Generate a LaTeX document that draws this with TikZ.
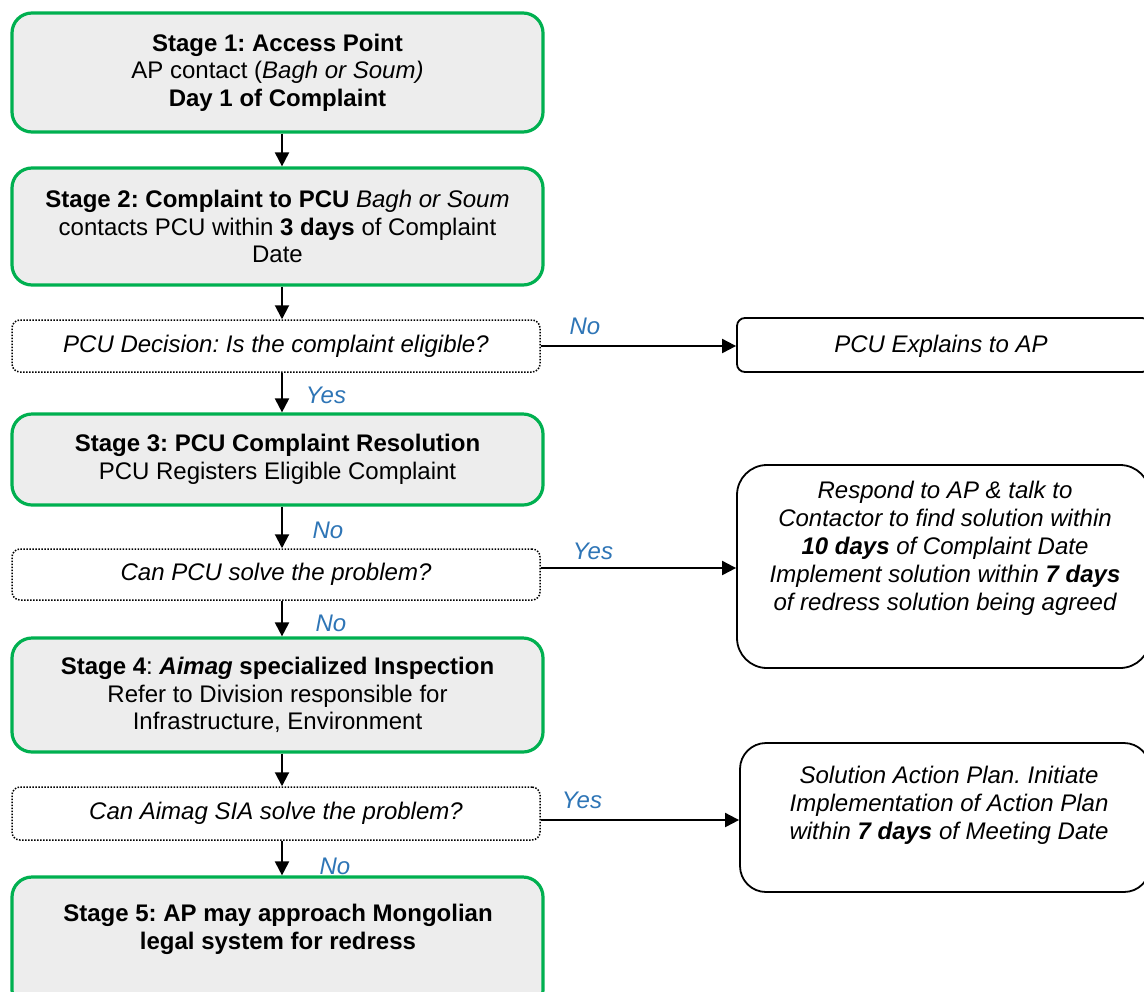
\documentclass[tikz,border=0pt]{standalone}
\usepackage{fontspec}
\setmainfont{Liberation Sans}
\usetikzlibrary{arrows.meta,calc}
\definecolor{stagegreen}{HTML}{00B050}
\definecolor{stagefill}{HTML}{EDEDED}
\definecolor{lblblue}{HTML}{2E75B6}
\newcommand{\basefnt}{\fontsize{12}{13.8}\selectfont}
\frenchspacing
\begin{document}
\begin{tikzpicture}[x=0.5pt,y=-0.5pt,
  stagebox/.style={draw=stagegreen, line width=1.6pt, fill=stagefill, rounded corners=10pt,
    align=center, inner sep=0pt, minimum width=265.5pt, font=\basefnt},
  decbox/.style={draw, line width=0.75pt, dash pattern=on 0.75pt off 0.75pt, rounded corners=4pt,
    align=center, inner sep=0pt, minimum width=264pt, font=\basefnt\itshape},
  outbox/.style={draw, line width=0.9pt, inner sep=0pt, fill=white},
  outtext/.style={align=center, inner sep=0pt, font=\fontsize{12}{14}\selectfont\itshape},
  conn/.style={line width=1pt, -{Triangle[length=7pt,width=7pt]}},
  yn/.style={text=lblblue, inner sep=0pt, font=\fontsize{12}{14}\selectfont\itshape}
]
\clip (0,0) rectangle (1144,991);
\fill[white] (0,0) rectangle (1144,991);

% stage boxes
\node[stagebox, minimum height=59.5pt] (s1) at (277.5,72.5)
  {\textbf{Stage 1: Access Point}\\ AP contact (\textit{Bagh or Soum)}\\ \textbf{Day 1 of Complaint}};
\node[stagebox, minimum height=58.5pt] (s2) at (277.5,226.5)
  {\textbf{Stage 2: Complaint to PCU} \textit{Bagh or Soum}\\ contacts PCU within \textbf{3 days} of Complaint\\ Date};
\node[decbox, minimum height=26pt] (d1) at (276,346) {PCU Decision: Is the complaint eligible?};
\node[stagebox, minimum height=45.5pt] (s3) at (277.5,459.5)
  {\textbf{Stage 3: PCU Complaint Resolution}\\ PCU Registers Eligible Complaint};
\node[decbox, minimum height=25.5pt] (d2) at (276,574.5) {Can PCU solve the problem?};
\node[stagebox, minimum height=57pt] (s4) at (277.5,695)
  {\textbf{Stage 4}: \textbf{\textit{Aimag} specialized Inspection}\\ Refer to Division responsible for\\ Infrastructure, Environment};
\node[decbox, minimum height=26.5pt] (d3) at (276,813.5) {Can Aimag SIA solve the problem?};
\node[stagebox, minimum height=66.5pt] (s5) at (277.5,943.5) {};
\node[align=center, inner sep=0pt, font=\basefnt\bfseries] (s5t) at (278,929.5)
  {Stage 5: AP may approach Mongolian\\ legal system for redress};

% outcome boxes
\node[outbox, rounded corners=4pt, minimum width=206.5pt, minimum height=27pt] (r1) at (943.5,345) {};
\node[outtext] (r1t) at (941,346) {PCU Explains to AP};
\node[outbox, rounded corners=15pt, minimum width=206.5pt, minimum height=101.5pt] (r2) at (943.5,566.5) {};
\node[outtext] (r2t) at (945,548.5)
  {Respond to AP \& talk to\\ Contactor to find solution within\\ \textbf{10 days} of Complaint Date\\ Implement solution within \textbf{7 days}\\ of redress solution being agreed};
\node[outbox, rounded corners=13pt, minimum width=205pt, minimum height=74.5pt] (r3) at (945,817.5) {};
\node[outtext] (r3t) at (949,805)
  {Solution Action Plan. Initiate\\ Implementation of Action Plan\\ within \textbf{7 days} of Meeting Date};

% connectors
\coordinate (ax) at (282,0);
\coordinate (h2) at (0,568);
\coordinate (h3) at (0,820);
\draw[conn] (s1.south -| ax) -- (s2.north -| ax);
\draw[conn] (s2.south -| ax) -- (d1.north -| ax);
\draw[conn] (d1.south -| ax) -- (s3.north -| ax);
\draw[conn] (s3.south -| ax) -- (d2.north -| ax);
\draw[conn] (d2.south -| ax) -- (s4.north -| ax);
\draw[conn] (s4.south -| ax) -- (d3.north -| ax);
\draw[conn] (d3.south -| ax) -- (s5.north -| ax);
\draw[conn] (d1.east) -- (d1.east -| r1.west);
\draw[conn] (d2.east |- h2) -- (r2.west |- h2);
\draw[conn] (d3.east |- h3) -- (r3.west |- h3);

% labels
\node[yn] (l1) at (585,326) {No};
\node[yn] (l2) at (326,395) {Yes};
\node[yn] (l3) at (328,530) {No};
\node[yn] (l4) at (593,551) {Yes};
\node[yn] (l5) at (331,623) {No};
\node[yn] (l6) at (582,800) {Yes};
\node[yn] (l7) at (335,866) {No};
\end{tikzpicture}
\end{document}
